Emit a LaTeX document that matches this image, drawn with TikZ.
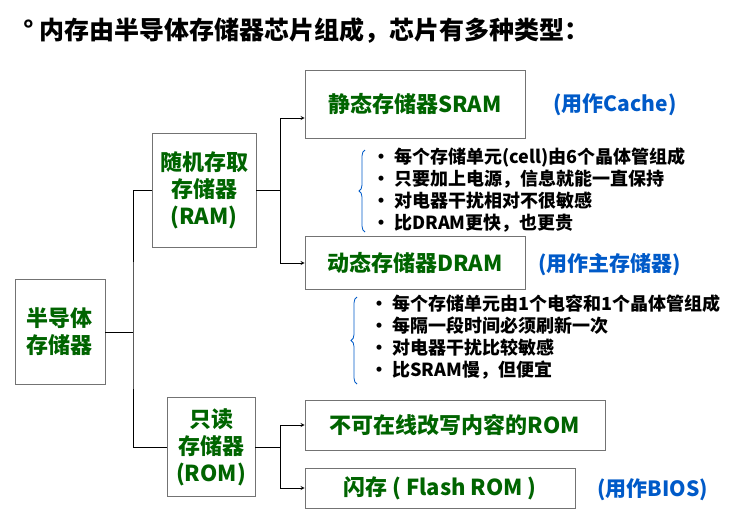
\documentclass[tikz,border=0pt]{standalone}
\usepackage{fontspec}
\setmainfont{Noto Sans CJK SC}
\usetikzlibrary{decorations.pathreplacing}
\definecolor{dg}{RGB}{0,100,0}
\definecolor{bl}{RGB}{0,90,200}
\begin{document}
\begin{tikzpicture}[x=1pt,y=-1pt,
 box/.style={draw=black!55,line width=0.8pt,fill=white,text=dg,font=\fontsize{22}{27}\selectfont\bfseries,align=center,inner sep=0pt},
 ln/.style={line width=0.8pt},
 ar/.style={line width=0.8pt,-stealth},
 note/.style={text=bl,font=\fontsize{21}{25}\selectfont\bfseries,anchor=west},
 lst/.style={font=\fontsize{18}{22}\selectfont\bfseries,align=left,anchor=north west,inner sep=0pt},
 br/.style={decorate,decoration={brace,amplitude=6pt,mirror},draw=bl,line width=0.8pt}]
\useasboundingbox (0,0) rectangle (747,520);
\node[anchor=west,font=\fontsize{25}{30}\selectfont\bfseries] (t) at (20,31) {° 内存由半导体存储器芯片组成，芯片有多种类型：};
\node[box,minimum width=90,minimum height=105] (m) at (60,332) {半导体\\存储器};
\node[box,minimum width=104,minimum height=114] (ram) at (204,190) {随机存取\\存储器\\(RAM)};
\node[box,minimum width=88,minimum height=99] (rom) at (211,447) {只读\\存储器\\(ROM)};
\node[box,minimum width=220,minimum height=68] (sram) at (415,104) {静态存储器SRAM};
\node[box,minimum width=220,minimum height=53] (dram) at (415,263) {动态存储器DRAM};
\node[box,minimum width=300,minimum height=50] (r1) at (455,425) {不可在线改写内容的ROM};
\node[box,minimum width=270,minimum height=40] (fl) at (440,488) {闪存 ( Flash ROM )};
\node[note] (n1) at (550,105) {(用作Cache)};
\node[note] (n2) at (535,265) {(用作主存储器)};
\node[note] (n3) at (594,490) {(用作BIOS)};
\node[lst] (l1) at (372,148) {• 每个存储单元(cell)由6个晶体管组成\\• 只要加上电源，信息就能一直保持\\• 对电器干扰相对不很敏感\\• 比DRAM更快，也更贵};
\node[lst] (l2) at (370,295) {· 每个存储单元由1个电容和1个晶体管组成\\• 每隔一段时间必须刷新一次\\• 对电器干扰比较敏感\\• 比SRAM慢，但便宜};
\draw[br] (365,150) -- (365,232);
\draw[br] (357,297) -- (357,384);
\coordinate (j) at (133,332);
\draw[ln] (m.east) -- (j);
\draw[ln] (ram.west) -| (j) |- (rom.west);
\draw[ln] (ram.east) -- (280,190);
\draw[ar] (280,190) |- (sram.west |- 0,118);
\draw[ar] (280,190) |- (dram.west);
\draw[ln] (rom.east) -- (280,447);
\draw[ar] (280,447) |- (r1.west);
\draw[ar] (280,447) |- (fl.west);
\end{tikzpicture}
\end{document}
